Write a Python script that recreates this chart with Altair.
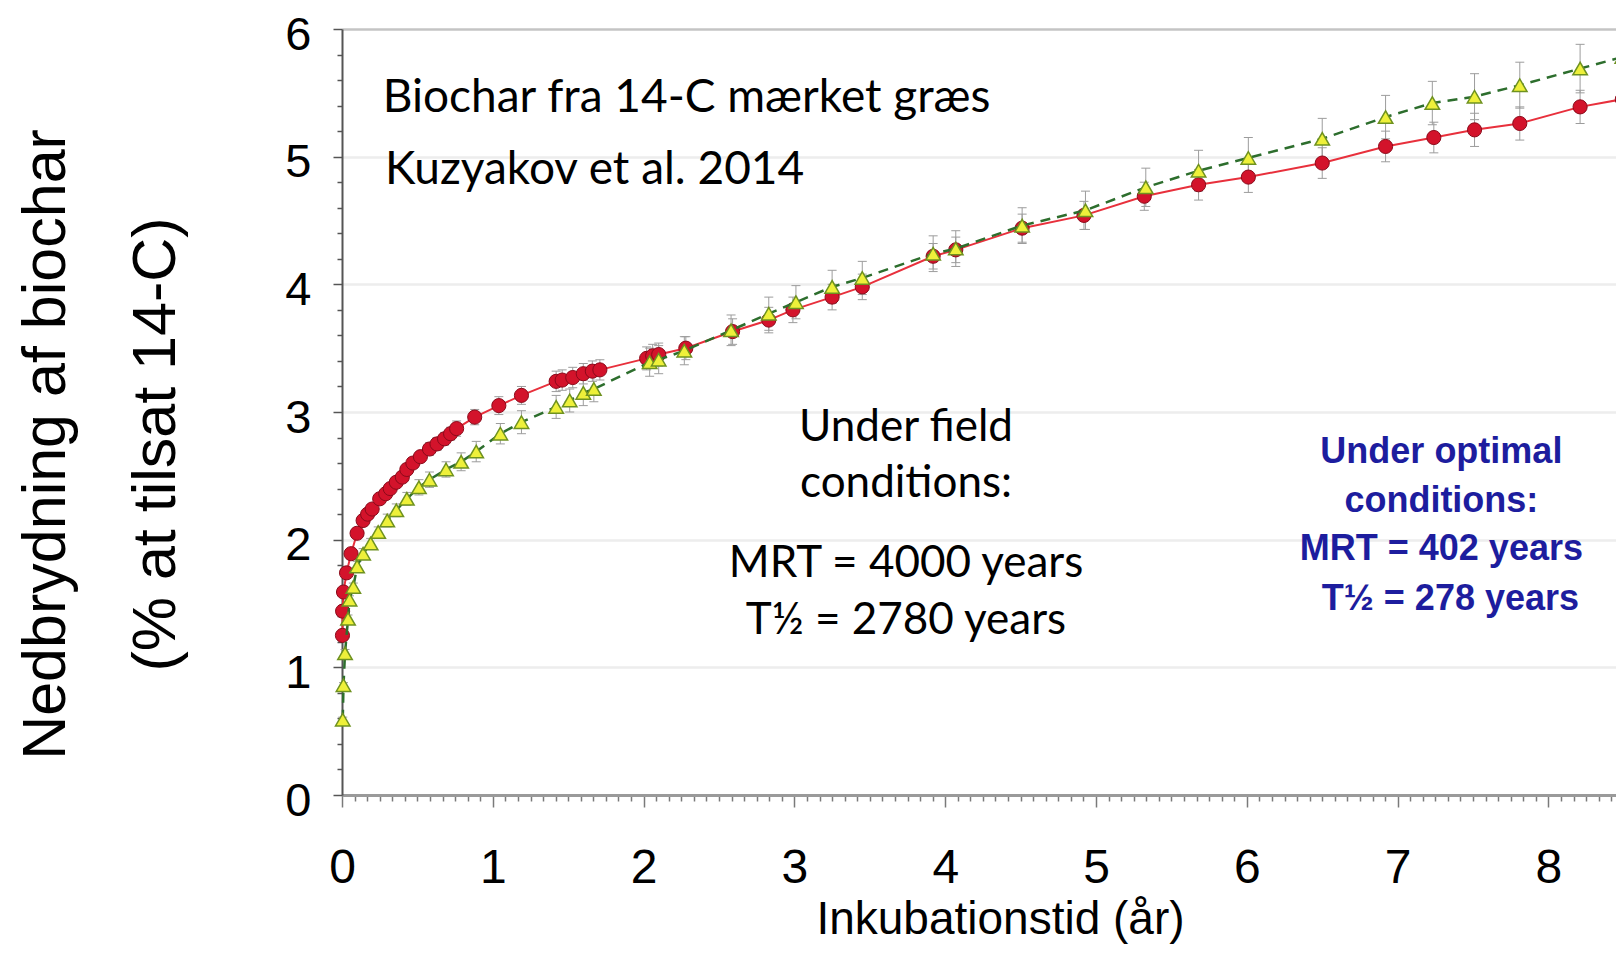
import altair as alt
import pandas as pd

# ---- data ----
red_x = [0.003, 0.004, 0.01, 0.03, 0.06, 0.10, 0.14, 0.17, 0.20, 0.25,
         0.29, 0.32, 0.36, 0.40, 0.43, 0.47, 0.52, 0.58, 0.63, 0.68,
         0.72, 0.76, 0.88, 1.04, 1.19, 1.42, 1.46, 1.53, 1.60, 1.66,
         1.71, 2.02, 2.06, 2.10, 2.28, 2.59, 2.83, 2.99, 3.25, 3.45,
         3.92, 4.07, 4.51, 4.92, 5.32, 5.68, 6.01, 6.50, 6.92, 7.24,
         7.51, 7.81, 8.21, 8.49]
red_y = [1.25, 1.44, 1.59, 1.74, 1.89, 2.05, 2.15, 2.20, 2.24, 2.32,
         2.36, 2.40, 2.45, 2.49, 2.55, 2.60, 2.65, 2.71, 2.75, 2.79,
         2.83, 2.87, 2.96, 3.05, 3.13, 3.24, 3.25, 3.27, 3.30, 3.32,
         3.33, 3.42, 3.44, 3.45, 3.50, 3.63, 3.72, 3.80, 3.90, 3.98,
         4.22, 4.27, 4.44, 4.54, 4.69, 4.78, 4.84, 4.95, 5.08, 5.15,
         5.21, 5.26, 5.39, 5.45]
red_err = [0.02, 0.02, 0.02, 0.03, 0.03, 0.03, 0.03, 0.03, 0.03, 0.03,
           0.03, 0.03, 0.04, 0.04, 0.04, 0.04, 0.04, 0.05, 0.05, 0.05,
           0.05, 0.06, 0.06, 0.07, 0.07, 0.08, 0.08, 0.08, 0.08, 0.08,
           0.08, 0.09, 0.09, 0.09, 0.09, 0.10, 0.10, 0.10, 0.10, 0.10,
           0.10, 0.10, 0.11, 0.11, 0.11, 0.12, 0.12, 0.12, 0.12, 0.12,
           0.13, 0.13, 0.13, 0.13]

yel_x = [0.005, 0.01, 0.02, 0.04, 0.05, 0.075, 0.10, 0.14, 0.19, 0.24,
         0.30, 0.36, 0.43, 0.51, 0.58, 0.69, 0.79, 0.89, 1.05, 1.19,
         1.42, 1.51, 1.60, 1.67, 2.04, 2.10, 2.27, 2.58, 2.83, 3.01,
         3.25, 3.45, 3.92, 4.07, 4.51, 4.93, 5.33, 5.68, 6.01, 6.50,
         6.92, 7.23, 7.51, 7.81, 8.21, 8.49]
yel_y = [0.59, 0.86, 1.11, 1.38, 1.53, 1.63, 1.79, 1.89, 1.97, 2.06,
         2.15, 2.23, 2.32, 2.41, 2.47, 2.55, 2.61, 2.69, 2.83, 2.92,
         3.04, 3.09, 3.15, 3.18, 3.39, 3.41, 3.48, 3.64, 3.77, 3.86,
         3.98, 4.05, 4.24, 4.28, 4.46, 4.58, 4.76, 4.89, 4.99, 5.14,
         5.31, 5.42, 5.47, 5.56, 5.69, 5.78]
yel_err = [0.02, 0.02, 0.03, 0.03, 0.03, 0.03, 0.04, 0.04, 0.04, 0.04,
           0.05, 0.05, 0.05, 0.06, 0.06, 0.06, 0.07, 0.08, 0.08, 0.09,
           0.09, 0.09, 0.10, 0.10, 0.11, 0.11, 0.11, 0.12, 0.13, 0.13,
           0.13, 0.13, 0.14, 0.14, 0.14, 0.15, 0.15, 0.16, 0.16, 0.16,
           0.17, 0.17, 0.18, 0.18, 0.19, 0.19]

x_tick_values = [m / 12 for m in range(0, 102)]
y_tick_values = [round(i * 0.2, 1) for i in range(31)]

y_title = ["Nedbrydning af biochar", "(% at tilsat 14-C)"]
x_title = "Inkubationstid (år)"

note_text = ["Biochar fra 14-C mærket græs", "Kuzyakov et al. 2014"]
note_x = [0.27, 0.285]
note_y = [5.35, 4.785]

field_text = ["Under field", "conditions:", "MRT = 4000 years", "T½ = 2780 years"]
field_x = [3.74, 3.74, 3.74, 3.74]
field_y = [2.772, 2.334, 1.707, 1.261]

opt_text = ["Under optimal", "conditions:", "MRT = 402 years", "T½ = 278 years"]
opt_x = [7.29, 7.29, 7.29, 7.35]
opt_y = [2.600, 2.216, 1.840, 1.449]

# ---- tables ----
red_df = pd.DataFrame({"x": red_x, "y": red_y,
                       "lo": [a - e for a, e in zip(red_y, red_err)],
                       "hi": [a + e for a, e in zip(red_y, red_err)]})
yel_df = pd.DataFrame({"x": yel_x, "y": yel_y,
                       "lo": [a - e for a, e in zip(yel_y, yel_err)],
                       "hi": [a + e for a, e in zip(yel_y, yel_err)]})
note_df = pd.DataFrame({"x": note_x, "y": note_y, "t": note_text})
field_df = pd.DataFrame({"x": field_x, "y": field_y, "t": field_text})
opt_df = pd.DataFrame({"x": opt_x, "y": opt_y, "t": opt_text})

is_int = "abs(datum.value - round(datum.value)) < 0.001"

xs = alt.Scale(domain=[0, 8.448], nice=False, zero=False)
ys = alt.Scale(domain=[0, 6], nice=False)

x_axis = alt.Axis(
    values=x_tick_values,
    labelExpr=f"{is_int} ? format(datum.value, 'd') : ''",
    tickSize={"condition": {"test": is_int, "value": 12}, "value": 6},
    tickColor="#7a7a7a", tickWidth=1.5,
    domainColor="#9a9a9a", domainWidth=3,
    grid=False,
    labelFont="Liberation Sans", labelFontSize=48, labelColor="black",
    labelPadding=37, labelBaseline="top", labelFlush=False, labelOverlap=False,
    title=x_title, titleFont="Liberation Sans", titleFontSize=46,
    titleFontWeight="normal", titleColor="black",
    titleX=658, titleY=138, titleAlign="center", titleBaseline="alphabetic",
    titleAngle=0,
)
y_axis = alt.Axis(
    values=y_tick_values,
    labelExpr=f"{is_int} ? format(datum.value, 'd') : ''",
    tickSize={"condition": {"test": is_int, "value": 9}, "value": 5},
    tickColor="#555555", tickWidth=1.5,
    domainColor="#555555", domainWidth=2,
    grid=True,
    gridColor={"condition": {"test": "datum.value == 6", "value": "#c4c4c4"}, "value": "#ededed"},
    gridOpacity={"condition": {"test": is_int, "value": 1}, "value": 0},
    gridWidth=2.5,
    labelFont="Liberation Sans", labelFontSize=47, labelColor="black",
    labelPadding=22, labelOffset=6, labelOverlap=False,
    title=y_title, titleFont="Liberation Sans", titleFontSize=61,
    titleFontWeight="normal", titleColor="black",
    titleAngle=270, titleX=-278, titleY=415, titleAlign="center",
    titleBaseline="alphabetic", titleLineHeight=110,
)

X = alt.X("x:Q", scale=xs, axis=x_axis)
Y = alt.Y("y:Q", scale=ys, axis=y_axis)
YLO = alt.Y("lo:Q", scale=ys, axis=y_axis)
YHI = alt.Y("hi:Q", scale=ys, axis=y_axis)

err_col = "#9c9c9c"


def errbars(df):
    rule = alt.Chart(df).mark_rule(color=err_col, strokeWidth=1).encode(x=X, y=YLO, y2="hi:Q")
    cap_lo = alt.Chart(df).mark_tick(orient="horizontal", size=9, thickness=1, color=err_col, opacity=1).encode(x=X, y=YLO)
    cap_hi = alt.Chart(df).mark_tick(orient="horizontal", size=9, thickness=1, color=err_col, opacity=1).encode(x=X, y=YHI)
    return [rule, cap_lo, cap_hi]


red_line = alt.Chart(red_df).mark_line(color="#e8303c", strokeWidth=2).encode(x=X, y=Y)
red_pts = alt.Chart(red_df).mark_point(
    shape="circle", filled=True, size=200, fill="#d3132b", stroke="#8b0a1a",
    strokeWidth=1, opacity=1).encode(x=X, y=Y)
yel_line = alt.Chart(yel_df).mark_line(color="#2d6e2d", strokeWidth=2.5, strokeDash=[10, 7]).encode(x=X, y=Y)
yel_pts = alt.Chart(yel_df).mark_point(
    shape="triangle-up", filled=True, size=210, fill="#eef03a", stroke="#6f9220",
    strokeWidth=1.5, opacity=1).encode(x=X, y=Y)

notes = alt.Chart(note_df).mark_text(
    align="left", baseline="alphabetic", font="Lato", fontSize=46, color="black"
).encode(x=X, y=Y, text="t:N")
field = alt.Chart(field_df).mark_text(
    align="center", baseline="alphabetic", font="Lato", fontSize=44, color="black"
).encode(x=X, y=Y, text="t:N")
opt = alt.Chart(opt_df).mark_text(
    align="center", baseline="alphabetic", font="Liberation Sans", fontSize=36,
    fontWeight="bold", color="#1d1d9e"
).encode(x=X, y=Y, text="t:N")

chart = alt.layer(
    *errbars(red_df), *errbars(yel_df),
    red_line, red_pts, yel_line, yel_pts,
    notes, field, opt,
).properties(
    width=1274, height=766,
    padding={"left": 334, "top": 21, "right": 0, "bottom": 151},
    autosize=alt.AutoSizeParams(type="none"),
    background="white",
).configure_view(stroke=None)

chart.save("out.html", embed_options={"renderer": "svg", "actions": False})
